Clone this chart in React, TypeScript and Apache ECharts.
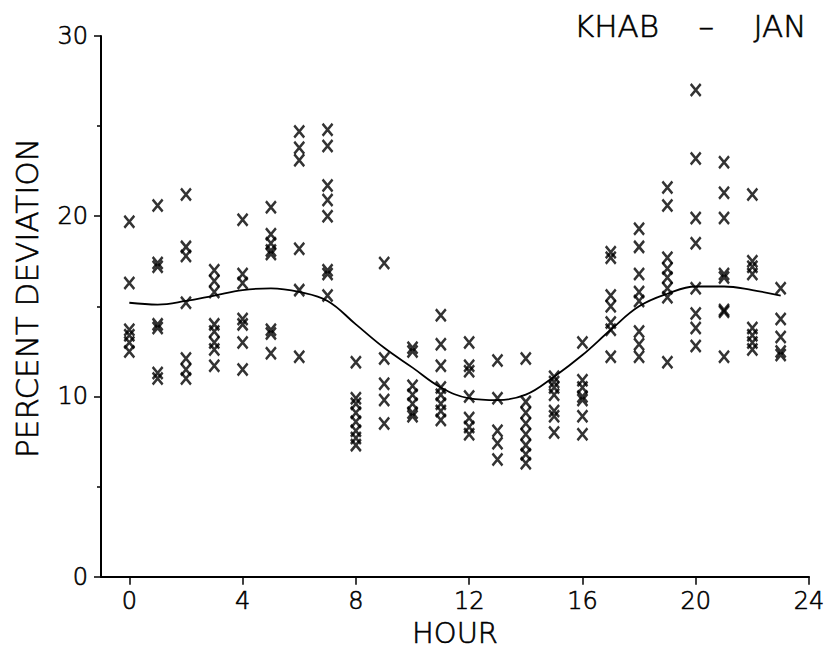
import React, { useEffect, useRef } from "react";
import * as echarts from "echarts";

// Hour of day for each column of observations
const hours: number[] = [0, 1, 2, 3, 4, 5, 6, 7, 8, 9, 10, 11, 12, 13, 14, 15, 16, 17, 18, 19, 20, 21, 22, 23];

const h00 = [19.7, 16.3, 13.7, 13.4, 13.0, 12.5];
const h01 = [20.6, 17.4, 17.2, 14.0, 13.8, 11.3, 11.0];
const h02 = [21.2, 18.3, 17.8, 15.2, 12.1, 11.5, 11.0];
const h03 = [17.0, 16.4, 15.8, 14.0, 13.6, 13.0, 12.6, 11.7];
const h04 = [19.8, 16.8, 16.3, 14.3, 14.0, 13.0, 11.5];
const h05 = [20.5, 19.0, 18.5, 18.1, 17.9, 13.7, 13.5, 12.4];
const h06 = [24.7, 23.8, 23.1, 18.2, 15.9, 12.2];
const h07 = [24.8, 23.9, 21.7, 20.9, 20.0, 17.0, 16.8, 15.6];
const h08 = [11.9, 9.9, 9.6, 9.1, 8.6, 8.1, 7.7, 7.3];
const h09 = [17.4, 12.1, 10.7, 9.8, 8.5];
const h10 = [12.7, 12.5, 10.6, 10.1, 9.6, 9.1, 8.9];
const h11 = [14.5, 12.9, 11.7, 10.5, 10.1, 9.6, 9.2, 8.7];
const h12 = [13.0, 11.7, 11.4, 10.0, 8.8, 8.3, 7.9];
const h13 = [12.0, 9.9, 8.1, 7.4, 6.5];
const h14 = [12.1, 9.7, 9.1, 8.5, 7.9, 7.3, 6.8, 6.3];
const h15 = [11.1, 10.8, 10.5, 10.1, 9.2, 8.9, 8.0];
const h16 = [13.0, 10.9, 10.5, 10.0, 9.8, 8.9, 7.9];
const h17 = [18.0, 17.7, 15.6, 15.0, 14.1, 13.7, 12.2];
const h18 = [19.3, 18.3, 16.8, 15.8, 15.3, 13.6, 12.9, 12.2];
const h19 = [21.6, 20.6, 17.7, 17.1, 16.6, 16.0, 15.5, 11.9];
const h20 = [27.0, 23.2, 19.9, 18.5, 16.0, 14.6, 13.8, 12.8];
const h21 = [23.0, 21.3, 19.9, 16.8, 16.6, 14.8, 14.7, 12.2];
const h22 = [21.2, 17.5, 17.2, 16.8, 13.8, 13.4, 13.0, 12.6];
const h23 = [16.0, 14.3, 13.3, 12.5, 12.3];

const observations: number[][] = [
  h00, h01, h02, h03, h04, h05, h06, h07, h08, h09, h10, h11,
  h12, h13, h14, h15, h16, h17, h18, h19, h20, h21, h22, h23,
];

// Fitted curve value at each hour
const fitted: number[] = [
  15.2, 15.1, 15.3, 15.6, 15.9, 16.0, 15.8, 15.3, 14.0, 12.7, 11.6, 10.5,
  9.9, 9.8, 10.1, 11.1, 12.3, 13.7, 15.0, 15.7, 16.1, 16.1, 15.9, 15.6,
];

const xTicks: number[] = [0, 4, 8, 12, 16, 20, 24];

const titleText = "KHAB    \u2013    JAN";
const xName = "HOUR";
const yName = "PERCENT DEVIATION";

const FONT = "'DejaVu Sans', sans-serif";
const TXT = {
  fontFamily: FONT,
  fontWeight: 200,
  color: "#000",
  textBorderColor: "#000",
  textBorderWidth: 0.6,
};

export default function App() {
  const ref = useRef<HTMLDivElement>(null);

  useEffect(() => {
    if (!ref.current) return;
    const chart = echarts.init(ref.current, null, { renderer: "svg" });

    const scatterData: number[][] = [];
    hours.forEach((h, i) => {
      observations[i].forEach((v) => scatterData.push([h, v]));
    });
    const lineData = hours.map((h, i) => [h, fitted[i]]);

    chart.setOption({
      animation: false,
      backgroundColor: "#fff",
      title: {
        text: titleText,
        right: 17,
        top: 5,
        textStyle: { ...TXT, fontSize: 31 },
      },
      graphic: [
        {
          type: "text",
          x: 27,
          y: 298,
          rotation: Math.PI / 2,
          style: {
            text: yName,
            fontFamily: FONT,
            fontWeight: 200,
            fontSize: 31,
            fill: "#000",
            stroke: "#000",
            lineWidth: 0.6,
            align: "center",
            verticalAlign: "middle",
          },
        },
      ],
      grid: { left: 101, right: 20, top: 36, bottom: 76 },
      xAxis: {
        type: "value",
        min: -1,
        max: 24,
        name: xName,
        nameLocation: "middle",
        nameGap: 42,
        nameTextStyle: { ...TXT, fontSize: 29 },
        axisLine: { show: true, onZero: false, lineStyle: { color: "#000", width: 2 } },
        axisTick: { show: true, customValues: xTicks, length: 8, lineStyle: { color: "#000", width: 1.5 } },
        axisLabel: { ...TXT, customValues: xTicks, fontSize: 24, margin: 12 },
        splitLine: { show: false },
      },
      yAxis: {
        type: "value",
        min: 0,
        max: 30,
        interval: 10,
        axisLine: { show: true, onZero: false, lineStyle: { color: "#000", width: 2 } },
        axisTick: { show: true, length: 7, lineStyle: { color: "#000", width: 1.5 } },
        minorTick: { show: true, splitNumber: 2, length: 4, lineStyle: { color: "#000", width: 1.5 } },
        axisLabel: { ...TXT, fontSize: 24, margin: 13 },
        splitLine: { show: false },
        minorSplitLine: { show: false },
      },
      series: [
        {
          type: "scatter",
          data: scatterData,
          symbol: "path://M0,0L10,12M10,0L0,12",
          symbolSize: [10, 12],
          itemStyle: { color: "none", borderColor: "#000", borderWidth: 2.6 },
          z: 3,
        },
        {
          type: "line",
          data: lineData,
          smooth: 0.4,
          showSymbol: false,
          lineStyle: { color: "#000", width: 1.8 },
          z: 2,
        },
      ],
    });

    return () => chart.dispose();
  }, []);

  return (
    <div
      ref={ref}
      style={{ position: "fixed", left: 0, top: 0, width: 829, height: 653, background: "#fff" }}
    />
  );
}
